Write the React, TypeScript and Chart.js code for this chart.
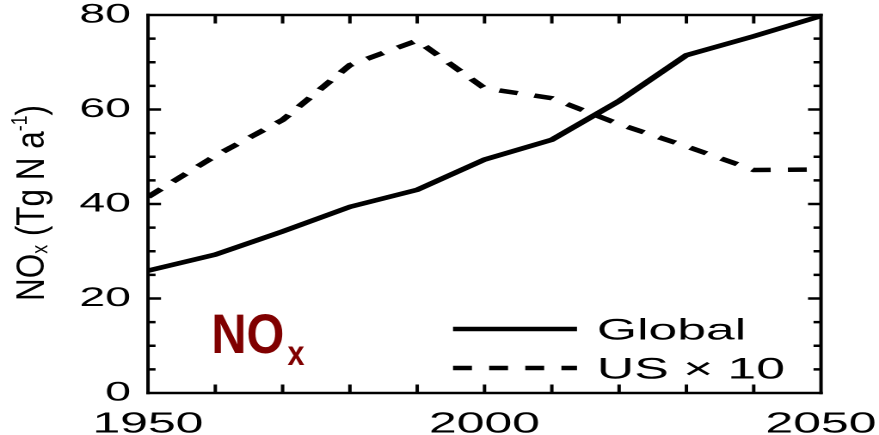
import React, { useEffect, useRef } from 'react';
import { Chart, registerables } from 'chart.js';

Chart.register(...registerables);

// ---------- data ----------
const years = [1950, 1960, 1970, 1980, 1990, 2000, 2010, 2020, 2030, 2040, 2050];
const globalNOx = [25.9, 29.3, 34.2, 39.4, 43.0, 49.4, 53.6, 61.8, 71.5, 75.5, 79.8];
const usNOxTimes10 = [41.5, 50.2, 57.8, 69.4, 74.6, 64.5, 62.4, 56.9, 52.2, 47.2, 47.3];
const seriesNames = ['Global', 'US \u00d7 10'];
const xTickLabels = [1950, 2000, 2050];
const yTickLabels = [0, 20, 40, 60, 80];
const yTitleParts = { main: 'NO', sub: 'x', mid: ' (Tg N a', sup: '-1', end: ')' };
const panelText = { main: 'NO', sub: 'x' };
const panelAt = { x: 1959.4, y: 8.5 };

// ---------- layout ----------
const VIEW_W = 879;
const VIEW_H = 435;
const CANVAS_W = 511;
const S = VIEW_W / CANVAS_W; // horizontal stretch of the whole figure
const FONT = '"Liberation Sans", Arial, Helvetica, sans-serif';

const framePlugin = {
  id: 'frameTicks',
  afterDatasetsDraw(chart: any) {
    const { ctx, chartArea: a, scales } = chart;
    const xs = scales.x;
    const ys = scales.y;
    ctx.save();
    ctx.strokeStyle = '#000';
    ctx.lineCap = 'butt';
    // horizontal frame lines
    ctx.lineWidth = 2.5;
    ctx.beginPath();
    ctx.moveTo(a.left - 1, a.top);
    ctx.lineTo(a.right + 1, a.top);
    ctx.moveTo(a.left - 1, a.bottom);
    ctx.lineTo(a.right + 1, a.bottom);
    // y ticks (inward, both sides)
    ys.ticks.forEach((t: any) => {
      const y = ys.getPixelForValue(t.value);
      const len = (yTickLabels.includes(t.value) ? 13 : 7.5) / S;
      ctx.moveTo(a.left, y);
      ctx.lineTo(a.left + len, y);
      ctx.moveTo(a.right, y);
      ctx.lineTo(a.right - len, y);
    });
    ctx.stroke();
    // vertical frame lines
    ctx.lineWidth = 2.0;
    ctx.beginPath();
    ctx.moveTo(a.left, a.top - 1.25);
    ctx.lineTo(a.left, a.bottom + 1.25);
    ctx.moveTo(a.right, a.top - 1.25);
    ctx.lineTo(a.right, a.bottom + 1.25);
    xs.ticks.forEach((t: any) => {
      const x = xs.getPixelForValue(t.value);
      ctx.moveTo(x, a.bottom);
      ctx.lineTo(x, a.bottom - 8.5);
      ctx.moveTo(x, a.top);
      ctx.lineTo(x, a.top + 8.5);
    });
    ctx.stroke();
    ctx.restore();
  },
};

const legendPlugin = {
  id: 'innerLegend',
  afterDraw(chart: any) {
    const { ctx, chartArea: a } = chart;
    const fs = 30;
    const rows = [a.bottom - 64, a.bottom - 25];
    const x1 = a.right - (821 - 453) / S;
    const x2 = a.right - (821 - 577) / S;
    const tx = a.right - (821 - 597) / S;
    ctx.save();
    chart.data.datasets.forEach((ds: any, i: number) => {
      const y = rows[i];
      ctx.strokeStyle = '#000';
      ctx.lineWidth = ds.borderWidth;
      ctx.lineCap = 'butt';
      ctx.setLineDash(ds.borderDash || []);
      ctx.beginPath();
      ctx.moveTo(x1, y);
      ctx.lineTo(x2, y);
      ctx.stroke();
      ctx.setLineDash([]);
      ctx.fillStyle = '#000';
      ctx.font = `${fs}px ${FONT}`;
      ctx.textBaseline = 'alphabetic';
      ctx.textAlign = 'left';
      ctx.fillText(ds.label, tx, y + 0.358 * fs);
    });
    ctx.restore();
  },
};

const titlePlugin = {
  id: 'axisTitleAndPanel',
  afterDraw(chart: any) {
    const { ctx, chartArea: a, scales } = chart;
    // y-axis title (rotated)
    const fs = 23;
    const small = 13;
    ctx.save();
    ctx.fillStyle = '#000';
    ctx.textBaseline = 'alphabetic';
    ctx.textAlign = 'left';
    const big = `${fs}px ${FONT}`;
    const sm = `${small}px ${FONT}`;
    const parts = [
      { t: yTitleParts.main, f: big, dy: 0 },
      { t: yTitleParts.sub, f: sm, dy: 2 },
      { t: yTitleParts.mid, f: big, dy: 0 },
      { t: yTitleParts.sup, f: sm, dy: -10 },
      { t: yTitleParts.end, f: big, dy: 0 },
    ];
    let total = 0;
    const widths = parts.map((p) => {
      ctx.font = p.f;
      const w = ctx.measureText(p.t).width;
      total += w;
      return w;
    });
    const k = 196 / total;
    ctx.translate(44 / S, (a.top + a.bottom) / 2 - 1);
    ctx.rotate(-Math.PI / 2);
    ctx.scale(k, 1);
    let u = -total / 2;
    parts.forEach((p, i) => {
      ctx.font = p.f;
      ctx.fillText(p.t, u, p.dy);
      u += widths[i];
    });
    ctx.restore();

    // panel label NOx in dark red
    const xs = scales.x;
    const ys = scales.y;
    ctx.save();
    ctx.translate(xs.getPixelForValue(panelAt.x), ys.getPixelForValue(panelAt.y));
    ctx.scale(0.87 / S, 1);
    ctx.fillStyle = '#800000';
    ctx.textBaseline = 'alphabetic';
    ctx.textAlign = 'left';
    ctx.font = `bold 56px ${FONT}`;
    ctx.fillText(panelText.main, 0, 0);
    const w = ctx.measureText(panelText.main).width;
    ctx.font = `bold 35px ${FONT}`;
    ctx.fillText(panelText.sub, w + 3.5, 12);
    ctx.restore();
  },
};

export default function App() {
  const ref = useRef<HTMLCanvasElement>(null);

  useEffect(() => {
    if (!ref.current) return;
    const chart = new Chart(ref.current, {
      type: 'line',
      data: {
        datasets: [
          {
            label: seriesNames[0],
            data: years.map((x, i) => ({ x, y: globalNOx[i] })),
            borderColor: '#000',
            borderWidth: 4.5,
            borderJoinStyle: 'miter',
            pointRadius: 0,
            fill: false,
          },
          {
            label: seriesNames[1],
            data: years.map((x, i) => ({ x, y: usNOxTimes10[i] })),
            borderColor: '#000',
            borderWidth: 4.5,
            borderDash: [11, 10],
            borderCapStyle: 'butt',
            borderJoinStyle: 'miter',
            pointRadius: 0,
            fill: false,
          },
        ],
      },
      options: {
        animation: false,
        responsive: true,
        maintainAspectRatio: false,
        devicePixelRatio: 2,
        layout: { padding: { top: 15, right: (VIEW_W - 821) / S, left: 0, bottom: 0 } },
        plugins: { legend: { display: false }, tooltip: { enabled: false } },
        elements: { line: { tension: 0 } },
        scales: {
          x: {
            type: 'linear',
            min: 1950,
            max: 2050,
            grid: { display: false, drawTicks: false },
            border: { display: false },
            ticks: {
              stepSize: 10,
              autoSkip: false,
              maxRotation: 0,
              padding: 14,
              color: '#000',
              font: { family: FONT, size: 29 },
              callback: (v: any) => (xTickLabels.includes(v) ? String(v) : ''),
            },
            afterFit: (s: any) => {
              s.height = VIEW_H - 393;
              s.paddingLeft = 0;
              s.paddingRight = 0;
            },
          },
          y: {
            type: 'linear',
            min: 0,
            max: 80,
            grid: { display: false, drawTicks: false },
            border: { display: false },
            ticks: {
              stepSize: 5,
              autoSkip: false,
              padding: 17 / S,
              color: '#000',
              font: { family: FONT, size: 27, lineHeight: 1.1 },
              callback: (v: any) => (yTickLabels.includes(v) ? String(v) : ''),
            },
            afterFit: (s: any) => {
              s.width = 148 / S;
              s.paddingTop = 0;
              s.paddingBottom = 0;
            },
          },
        },
      },
      plugins: [framePlugin, legendPlugin, titlePlugin],
    } as any);
    return () => chart.destroy();
  }, []);

  return (
    <div
      style={{
        position: 'fixed',
        left: 0,
        top: 0,
        width: VIEW_W,
        height: VIEW_H,
        background: '#fff',
        overflow: 'hidden',
      }}
    >
      <div
        style={{
          position: 'relative',
          width: CANVAS_W,
          height: VIEW_H,
          transform: `scaleX(${S})`,
          transformOrigin: '0 0',
        }}
      >
        <canvas ref={ref} />
      </div>
    </div>
  );
}
